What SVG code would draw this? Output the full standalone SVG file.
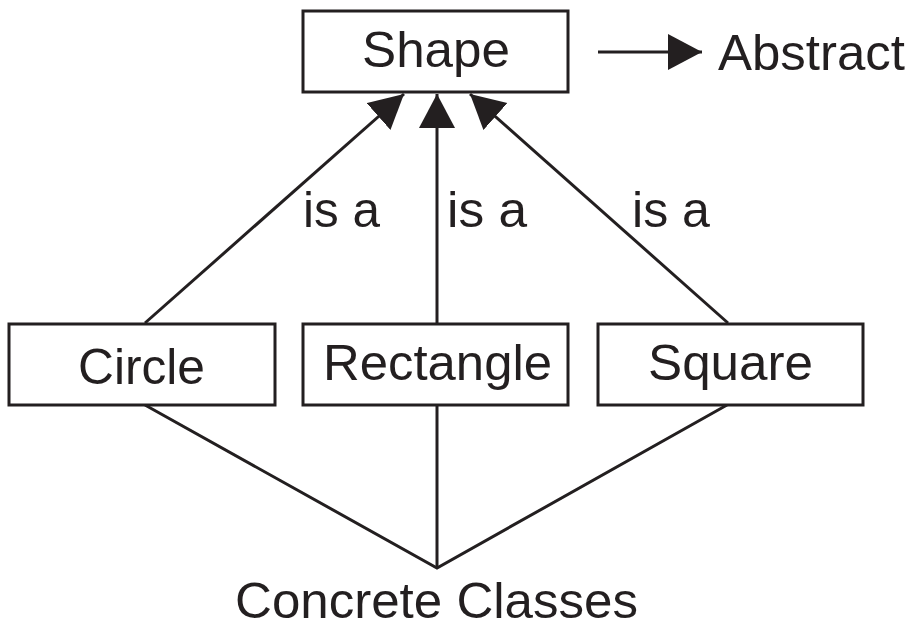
<svg xmlns="http://www.w3.org/2000/svg" width="917" height="631" viewBox="0 0 917 631">
<defs>
<style>
.box{fill:#fff;stroke:#231f20;stroke-width:3}
.ln{fill:none;stroke:#231f20;stroke-width:3}
.t{font-family:"Liberation Sans",Arial,sans-serif;font-size:50px;fill:#231f20}
</style>
<marker id="ah" markerUnits="userSpaceOnUse" markerWidth="36" markerHeight="38" refX="34" refY="18" orient="auto" viewBox="0 0 36 38">
<path d="M0,0 L34,18 L0,36 z" fill="#231f20"/>
</marker>
</defs>
<rect width="917" height="631" fill="#fff"/>
<g id="connectors">
<line class="ln" x1="145" y1="323" x2="404" y2="94" marker-end="url(#ah)"/>
<line class="ln" x1="437" y1="323" x2="437" y2="94" marker-end="url(#ah)"/>
<line class="ln" x1="728" y1="323" x2="470" y2="94" marker-end="url(#ah)"/>
<line class="ln" x1="598" y1="52" x2="702" y2="52" marker-end="url(#ah)"/>
<polyline class="ln" points="145,405 437,568 727,405"/>
<line class="ln" x1="437" y1="405" x2="437" y2="568"/>
<text class="t" x="303" y="227" textLength="77" lengthAdjust="spacingAndGlyphs">is a</text>
<text class="t" x="447" y="227" textLength="80" lengthAdjust="spacingAndGlyphs">is a</text>
<text class="t" x="632" y="227" textLength="78" lengthAdjust="spacingAndGlyphs">is a</text>
</g>
<g id="shape">
<rect class="box" x="303" y="11" width="265" height="81"/>
<text class="t" x="362" y="67" textLength="148" lengthAdjust="spacingAndGlyphs">Shape</text>
</g>
<g id="abstract">
<text class="t" x="718" y="70" textLength="187" lengthAdjust="spacingAndGlyphs">Abstract</text>
</g>
<g id="circle">
<rect class="box" x="9" y="324" width="266" height="81"/>
<text class="t" x="78" y="384" textLength="127" lengthAdjust="spacingAndGlyphs">Circle</text>
</g>
<g id="rectangle">
<rect class="box" x="303" y="324" width="265" height="81"/>
<text class="t" x="323" y="380" textLength="229" lengthAdjust="spacingAndGlyphs">Rectangle</text>
</g>
<g id="square">
<rect class="box" x="598" y="324" width="265" height="81"/>
<text class="t" x="648" y="380" textLength="165" lengthAdjust="spacingAndGlyphs">Square</text>
</g>
<g id="concrete">
<text class="t" x="235" y="618" textLength="403" lengthAdjust="spacingAndGlyphs">Concrete Classes</text>
</g>
</svg>
